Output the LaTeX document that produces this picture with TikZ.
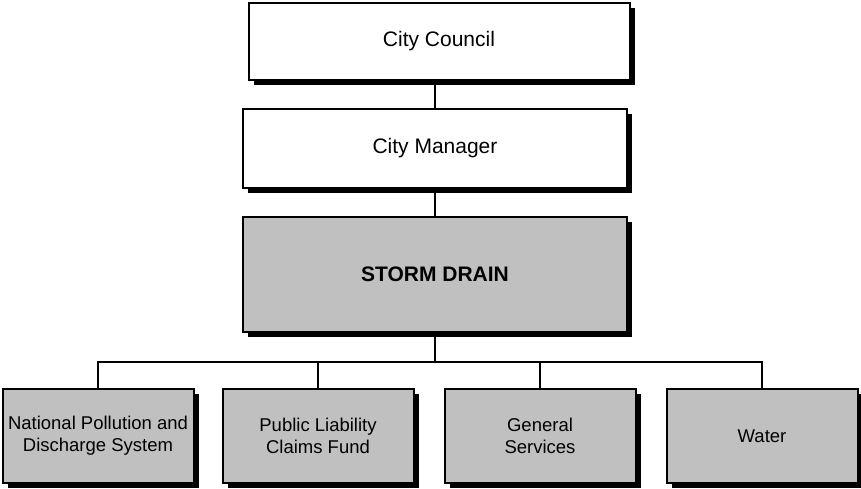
\documentclass[tikz,border=0pt]{standalone}
\usepackage{fontspec}
\setmainfont{Liberation Sans}
\usetikzlibrary{shadows}
\definecolor{boxgray}{RGB}{192,192,192}

\begin{document}
\begin{tikzpicture}[x=1pt, y=-1pt, line width=2pt,
    unit/.style={draw=black, fill=white, align=center, inner sep=0pt,
      drop shadow={shadow xshift=5pt, shadow yshift=-5pt, fill=black, opacity=1},
      font=\fontsize{21}{25}\selectfont},
    subunit/.style={unit, fill=boxgray, minimum width=191pt, minimum height=94pt,
      font=\fontsize{18.5}{21.7}\selectfont}]
    \useasboundingbox (0,0) rectangle (861,488);

    \node(council) [unit, minimum width=381pt, minimum height=77pt] at (439,41) {City Council};
    \node(manager) [unit, minimum width=384pt, minimum height=79pt] at (435,148) {City Manager};
    \node(storm) [unit, fill=boxgray, minimum width=384pt, minimum height=115pt] at (435,274) {\textbf{STORM DRAIN}};

    \node(npds)      [subunit] at (98,436)  {National Pollution and\\Discharge System};
    \node(liability) [subunit] at (318,436) {Public Liability\\Claims Fund};
    \node(services)  [subunit] at (540,436) {General\\Services};
    \node(water)     [subunit] at (762,436) {Water};

    \coordinate (bus) at (435,362);

    \draw (manager.north) -- (manager.north |- council.south);
    \draw (storm.north) -- (manager.south);
    \draw (storm.south) -- (bus);
    \draw (npds.north) |- (bus) -| (water.north);
    \draw (liability.north) -- (liability.north |- bus);
    \draw (services.north) -- (services.north |- bus);

\end{tikzpicture}
\end{document}
